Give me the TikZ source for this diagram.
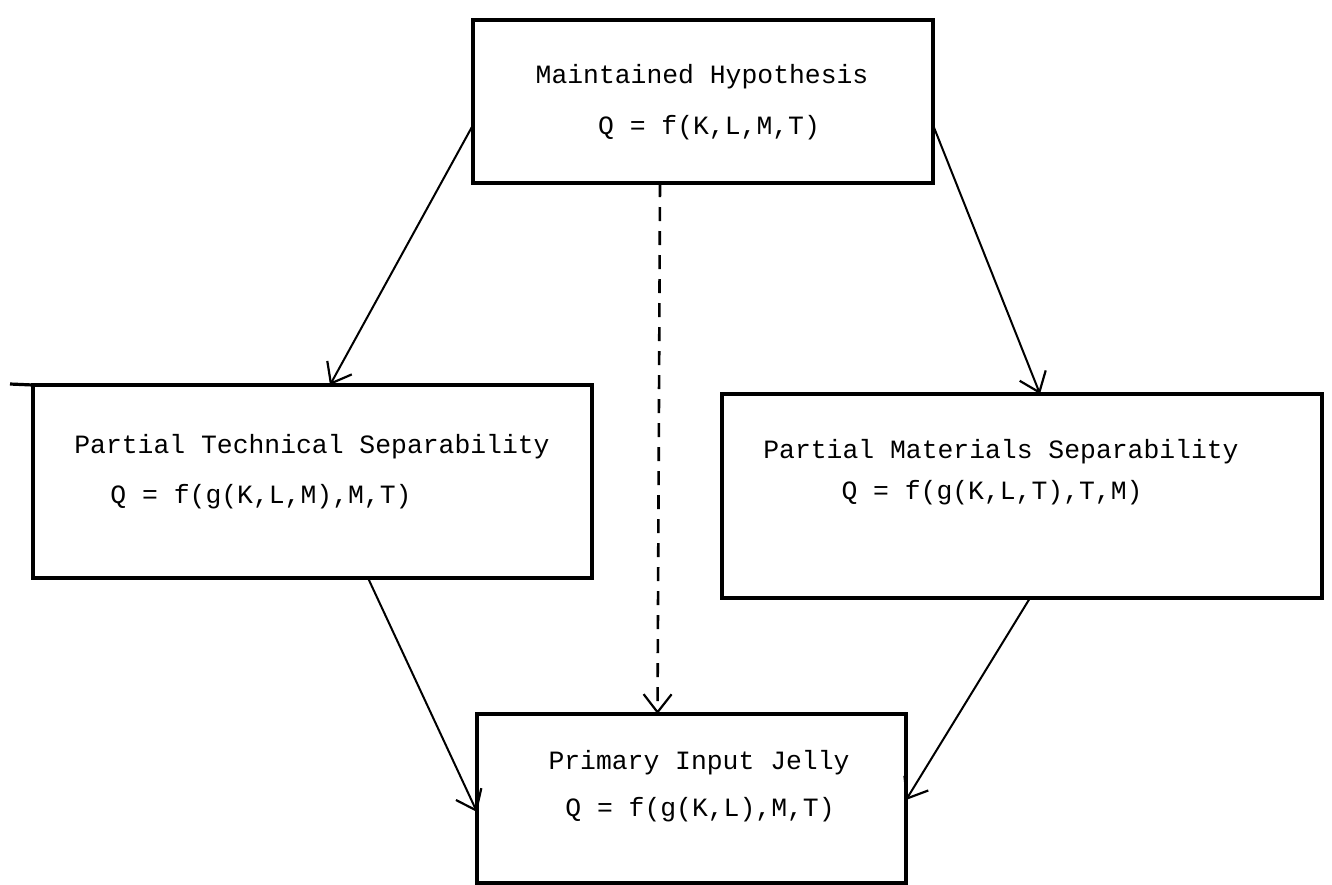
\documentclass[tikz,border=0pt]{standalone}
\usepackage{fontspec}
\setmainfont{Liberation Mono}
\usetikzlibrary{arrows.meta}
\begin{document}
\begin{tikzpicture}[x=0.5pt,y=-0.5pt,
  box/.style={draw, line width=1.6pt, rectangle, inner sep=0pt, outer sep=0pt},
  lbl/.style={inner sep=0pt, font=\fontsize{13.2}{16}\selectfont},
  conn/.style={line width=1pt, -{Straight Barb[length=9pt,width=14pt,line width=1.1pt]}},
  dconn/.style={conn, line width=1.3pt, dash pattern=on 7pt off 5pt}]
\useasboundingbox (0,0) rectangle (1332,884);
% boxes
\node[box, minimum width=230pt, minimum height=81.5pt] (top) at (703,101.5) {};
\node[box, minimum width=279.5pt, minimum height=96.5pt] (left) at (312.5,481.5) {};
\node[box, minimum width=300pt, minimum height=102pt] (right) at (1022,496) {};
\node[box, minimum width=214.5pt, minimum height=84.5pt] (bot) at (691.5,798.5) {};
\coordinate (lext) at (10,384);
\draw[line width=1.6pt] (lext) -- (left.north west);
% texts
\node[lbl] (t1) at (702,77) {Maintained Hypothesis};
\node[lbl] (t2) at (709,128) {Q = f(K,L,M,T)};
\node[lbl] (l1) at (312,447) {Partial Technical Separability};
\node[lbl] (l2) at (261,497) {Q = f(g(K,L,M),M,T)};
\node[lbl] (r1) at (1001,452) {Partial Materials Separability};
\node[lbl] (r2) at (992,493) {Q = f(g(K,L,T),T,M)};
\node[lbl] (b1) at (699,763) {Primary Input Jelly};
\node[lbl] (b2) at (700,810) {Q = f(g(K,L),M,T)};
% connectors
\draw[conn] ([yshift=-11.75pt]top.west) -- ([xshift=8.75pt]left.north);
\draw[conn] ([yshift=-11.75pt]top.east) -- ([xshift=9pt]right.north);
\draw[dconn] ([xshift=-21.5pt]top.south) -- ([xshift=-17pt]bot.north);
\draw[conn] ([xshift=27.75pt]left.south) -- ([yshift=-6.75pt]bot.west);
\draw[conn] ([xshift=4pt]right.south) -- ([yshift=-0.75pt]bot.east);
\end{tikzpicture}
\end{document}
